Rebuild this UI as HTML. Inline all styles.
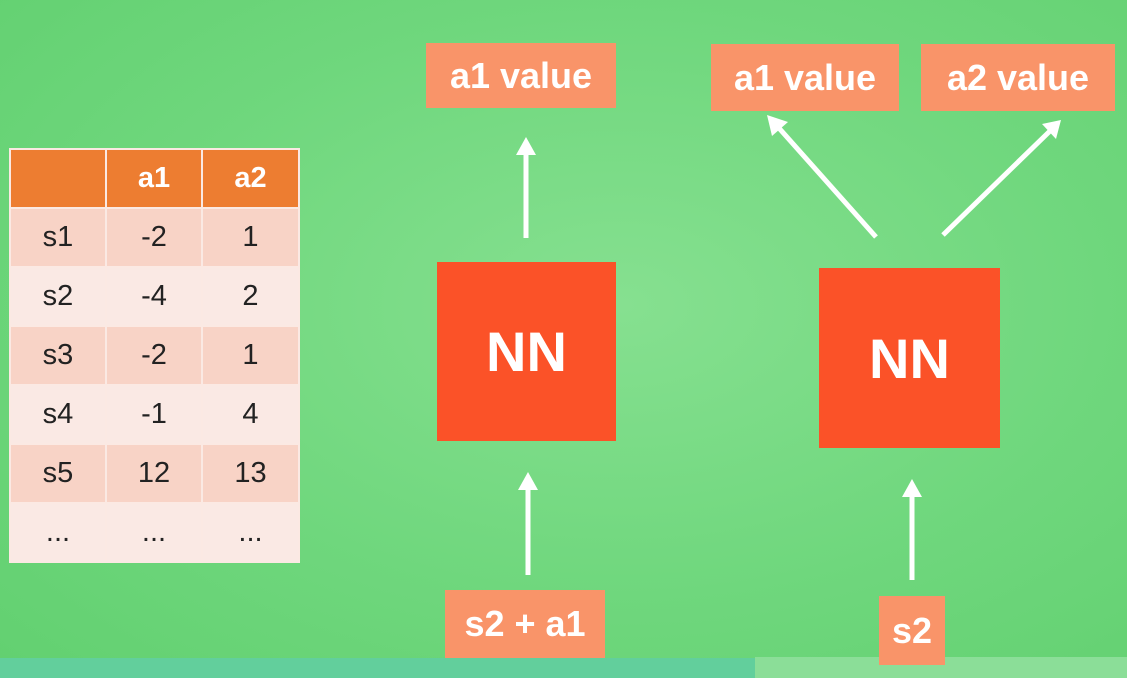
<!DOCTYPE html>
<html><head><style>
body{margin:0;width:1127px;height:678px;overflow:hidden;background:radial-gradient(ellipse at 55% 45%,#86e090 0%,#6fd77d 55%,#62d070 100%);font-family:"Liberation Sans",sans-serif;position:relative}
.b{position:absolute;background:#f99469;color:#fff;font-weight:bold;display:flex;align-items:center;justify-content:center;font-size:36px}
.nn{position:absolute;background:#fb5228;color:#fff;font-weight:bold;display:flex;align-items:center;justify-content:center;font-size:56px}
table{position:absolute;left:9px;top:148px;width:289px;border-collapse:collapse;table-layout:fixed;font-size:29px;color:#222}
td{height:59px;text-align:center;border:2px solid #fbe9e3;padding:0;box-sizing:border-box}
tr.h td{background:#ed7d31;color:#fff;font-weight:bold;height:59px}
tr.o td{background:#f8d3c6}
tr.e td{background:#fae9e4}
</style></head><body>
<table>
<colgroup><col style="width:96px"><col style="width:96px"><col style="width:97px"></colgroup>
<tr class="h"><td></td><td>a1</td><td>a2</td></tr>
<tr class="o"><td>s1</td><td>-2</td><td>1</td></tr>
<tr class="e"><td>s2</td><td>-4</td><td>2</td></tr>
<tr class="o"><td>s3</td><td>-2</td><td>1</td></tr>
<tr class="e"><td>s4</td><td>-1</td><td>4</td></tr>
<tr class="o"><td>s5</td><td>12</td><td>13</td></tr>
<tr class="e"><td>...</td><td>...</td><td>...</td></tr>
</table>
<div class="b" style="left:426px;top:43px;width:190px;height:65px">a1 value</div>
<div class="b" style="left:711px;top:44px;width:188px;height:67px">a1 value</div>
<div class="b" style="left:921px;top:44px;width:194px;height:67px">a2 value</div>
<div class="nn" style="left:437px;top:262px;width:179px;height:179px">NN</div>
<div class="nn" style="left:819px;top:268px;width:181px;height:180px">NN</div>
<div style="position:absolute;left:0;top:658px;width:755px;height:20px;background:#62cf9c"></div>
<div style="position:absolute;left:755px;top:657px;width:372px;height:21px;background:#8bde98"></div>
<div class="b" style="left:445px;top:590px;width:160px;height:68px">s2 + a1</div>
<div class="b" style="left:879px;top:596px;width:66px;height:69px">s2</div>
<svg width="1127" height="678" style="position:absolute;left:0;top:0">
<g stroke="#fff" stroke-width="5" fill="#fff">
<line x1="526" y1="238" x2="526" y2="150"/><polygon points="516,155 536,155 526,137" stroke="none"/>
<line x1="528" y1="575" x2="528" y2="485"/><polygon points="518,490 538,490 528,472" stroke="none"/>
<line x1="912" y1="580" x2="912" y2="492"/><polygon points="902,497 922,497 912,479" stroke="none"/>
<line x1="876" y1="237" x2="778" y2="127"/><polygon points="767,115 772,136 788,122" stroke="none"/>
<line x1="943" y1="235" x2="1050" y2="131"/><polygon points="1061,120 1042,124 1056,139" stroke="none"/>
</g></svg>
</body></html>
